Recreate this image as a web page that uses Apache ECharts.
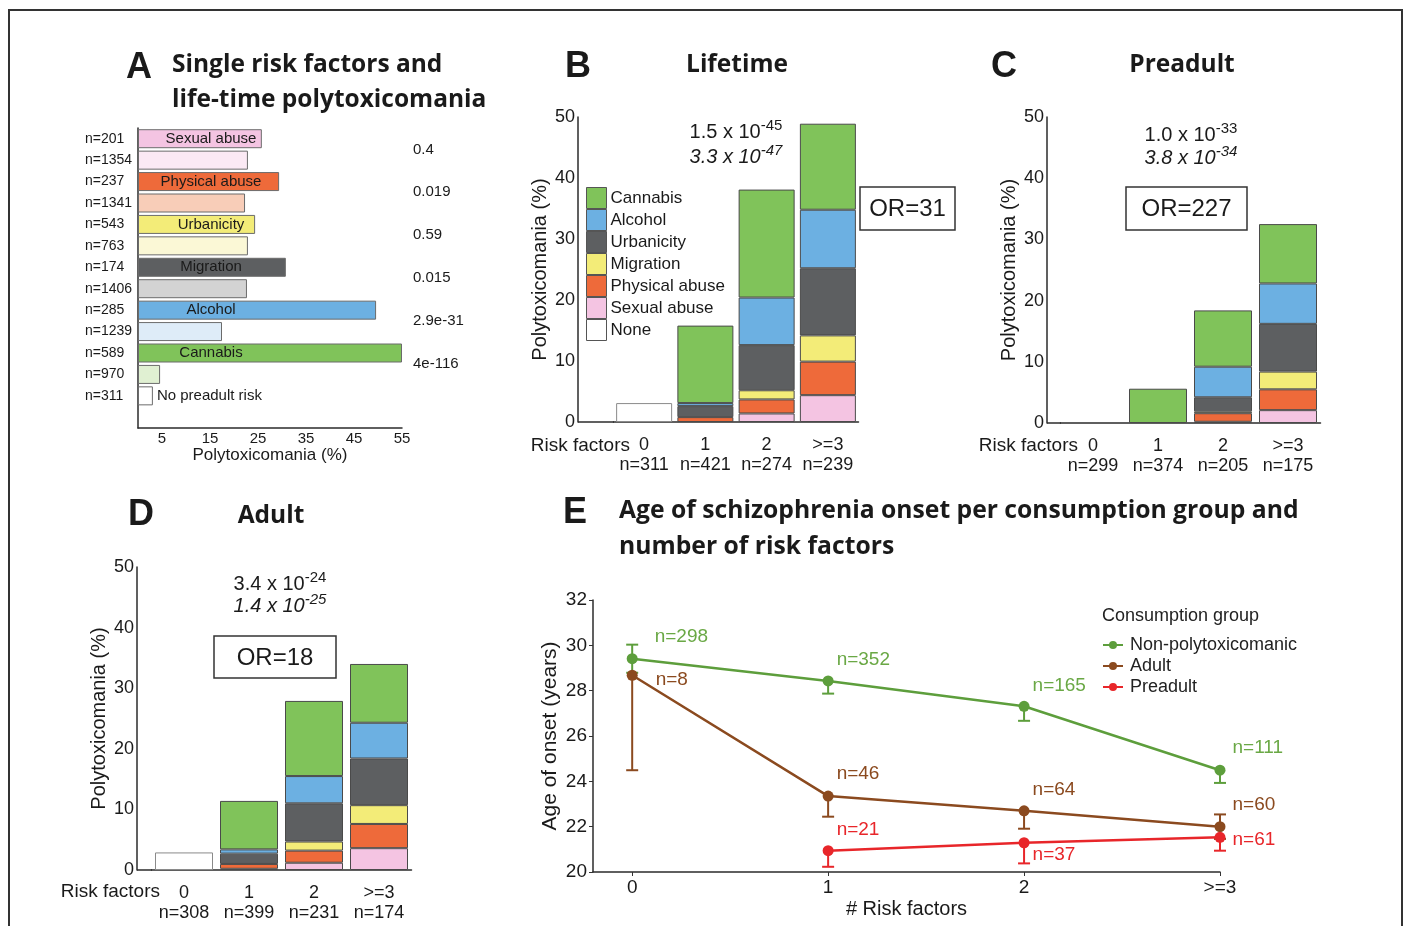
<!DOCTYPE html>
<html>
<head>
<meta charset="utf-8">
<title>Polytoxicomania and risk factors</title>
<script src="https://cdn.jsdelivr.net/npm/echarts@6.0.0/dist/echarts.min.js"></script>
<style>
  html, body { margin: 0; padding: 0; background: #fff; }
  #chart { width: 1406px; height: 926px; }
</style>
</head>
<body>
<div id="chart"></div>
<script>
// ---- panel A: single risk factors, rows top to bottom ----
const aCounts = ['n=201', 'n=1354', 'n=237', 'n=1341', 'n=543', 'n=763', 'n=174', 'n=1406', 'n=285', 'n=1239', 'n=589', 'n=970', 'n=311', ''];
const aNames = ['Sexual abuse', '', 'Physical abuse', '', 'Urbanicity', '', 'Migration', '', 'Alcohol', '', 'Cannabis', '', 'No preadult risk', ''];
const aValues = [25.8, 22.9, 29.4, 22.3, 24.4, 22.9, 30.8, 22.7, 49.6, 17.5, 55, 4.6, 3.1, null];
const aPvalues = ['0.4', '0.019', '0.59', '0.015', '2.9e-31', '4e-116', ''];
const aTicks = [5, 15, 25, 35, 45, 55];

// ---- panels B, C, D: stacked bars per number of risk factors ----
const riskCats = ['0', '1', '2', '>=3'];

const bCounts = ['n=311', 'n=421', 'n=274', 'n=239'];
const bNone = [3.1, null, null, null];
const bSexual = [null, null, 1.4, 4.4];
const bPhysical = [null, 0.8, 2.3, 5.5];
const bMigration = [null, null, 1.5, 4.3];
const bUrbanicity = [null, 1.8, 7.4, 11.0];
const bAlcohol = [null, 0.5, 7.8, 9.6];
const bCannabis = [null, 12.7, 17.7, 14.1];

const cCounts = ['n=299', 'n=374', 'n=205', 'n=175'];
const cNone = [null, null, null, null];
const cSexual = [null, null, 0.2, 2.1];
const cPhysical = [null, null, 1.4, 3.4];
const cMigration = [null, null, 0.3, 2.9];
const cUrbanicity = [null, null, 2.3, 7.8];
const cAlcohol = [null, null, 5.0, 6.6];
const cCannabis = [null, 5.6, 9.2, 9.7];

const dCounts = ['n=308', 'n=399', 'n=231', 'n=174'];
const dNone = [2.9, null, null, null];
const dSexual = [null, 0.2, 1.2, 3.6];
const dPhysical = [null, 0.8, 2.0, 4.0];
const dMigration = [null, null, 1.5, 3.1];
const dUrbanicity = [null, 1.7, 6.3, 7.7];
const dAlcohol = [null, 0.7, 4.5, 5.9];
const dCannabis = [null, 8.0, 12.4, 9.7];

// ---- panel E: age of onset (mean, error bar ends) ----
const eCats = ['0', '1', '2', '>=3'];
const greenMean = [29.41, 28.43, 27.31, 24.49];
const greenLow = [28.79, 27.87, 26.67, 23.93];
const greenHigh = [30.03, 28.43, 27.31, 24.49];
const greenN = ['n=298', 'n=352', 'n=165', 'n=111'];
const brownMean = [28.68, 23.35, 22.70, 22.00];
const brownLow = [24.49, 22.44, 21.91, 21.46];
const brownHigh = [28.68, 23.35, 22.70, 22.54];
const brownN = ['n=8', 'n=46', 'n=64', 'n=60'];
const redMean = [null, 20.94, 21.29, 21.53];
const redLow = [null, 20.23, 20.38, 20.94];
const redHigh = [null, 20.94, 21.29, 21.53];
const redN = ['', 'n=21', 'n=37', 'n=61'];

const font = '"Liberation Sans", Arial, sans-serif';
const headFont = '"Open Sans", sans-serif';
const ink = '#1a1a1a';
const axisColor = '#2b2b2b';
const axisLine = { show: true, onZero: false, lineStyle: { color: axisColor, width: 1.5 } };

const col = {
  cannabis: '#80c35a', alcohol: '#6cb0e2', urbanicity: '#5d5f61', migration: '#f3ec78',
  physical: '#ee6a3a', sexual: '#f4c4e2', none: '#ffffff'
};
// panel A uses its own colouring (urbanicity yellow, migration grey)
const aColors = ['#f4c4e2', '#fbe9f4', '#ee6a3a', '#f8cdb8', '#f3ec78', '#fbf8d6', '#5d5f61', '#d3d3d3',
  '#6cb0e2', '#deecf8', '#80c35a', '#e0f0d2', '#ffffff'];

const chart = echarts.init(document.getElementById('chart'));

function stackSeries(axis, width, layers) {
  return layers.map(function (l) {
    return {
      type: 'bar', name: l[0], xAxisIndex: axis, yAxisIndex: axis + 1, stack: 'panel' + axis,
      barWidth: width,
      itemStyle: { color: l[2], borderColor: l[0] === 'None' ? '#8a8a8a' : '#4a4a4a', borderWidth: 1 },
      data: l[1].map(function (v) { return v == null ? '-' : v; })
    };
  });
}

function riskXAxis(grid, counts) {
  return {
    type: 'category', gridIndex: grid, data: riskCats,
    splitLine: { show: false }, axisTick: { show: false }, axisLine: axisLine,
    axisLabel: {
      margin: 13, fontSize: 18, lineHeight: 20, color: ink, fontFamily: font, interval: 0,
      formatter: function (v, i) { return v + '\n' + counts[i]; }
    }
  };
}

// the y axis sits left of the first category band, so it is offset from the grid
function pctYAxis(grid, offset) {
  return {
    type: 'value', gridIndex: grid, min: 0, max: 50, interval: 10, offset: offset,
    name: 'Polytoxicomania (%)', nameLocation: 'middle', nameGap: 28,
    nameTextStyle: { fontSize: 20, color: ink, fontFamily: font },
    splitLine: { show: false }, axisTick: { show: false }, axisLine: axisLine,
    axisLabel: { fontSize: 18, margin: 3, color: ink, fontFamily: font }
  };
}

function errorSeries(color, mean, low, high) {
  const data = [];
  mean.forEach(function (m, i) { if (m != null) data.push([i, low[i], high[i], m]); });
  function cap(p) {
    return { type: 'line', shape: { x1: p[0] - 6, y1: p[1], x2: p[0] + 6, y2: p[1] }, style: { stroke: color, lineWidth: 2 } };
  }
  return {
    type: 'custom', xAxisIndex: 4, yAxisIndex: 5, z: 3,
    encode: { x: 0, y: [1, 2] },
    renderItem: function (params, api) {
      const x = api.value(0), lo = api.value(1), hi = api.value(2), m = api.value(3);
      const pLo = api.coord([x, lo]), pHi = api.coord([x, hi]);
      const kids = [{ type: 'line', shape: { x1: pLo[0], y1: pLo[1], x2: pHi[0], y2: pHi[1] }, style: { stroke: color, lineWidth: 2 } }];
      if (lo < m) kids.push(cap(pLo));
      if (hi > m) kids.push(cap(pHi));
      return { type: 'group', children: kids };
    },
    data: data
  };
}

function meanSeries(name, color, textColor, mean, labels, offsets) {
  const data = [];
  mean.forEach(function (m, i) {
    if (m == null) return;
    data.push({ value: [i, m], label: { formatter: labels[i], offset: offsets[i] } });
  });
  return {
    type: 'line', name: name, xAxisIndex: 4, yAxisIndex: 5, z: 4,
    symbol: 'circle', symbolSize: 11, color: color,
    lineStyle: { color: color, width: 2.5 },
    label: { show: true, position: 'right', distance: 0, fontSize: 19, color: textColor, fontFamily: font },
    data: data
  };
}

function txt(x, y, text, size, extra) {
  return {
    type: 'text', z: 50,
    style: Object.assign({ x: x, y: y, text: text, fontSize: size, fontFamily: font, fill: ink, align: 'center', verticalAlign: 'middle' }, extra || {})
  };
}

function pText(x, y, main, sup, italic) {
  const st = italic ? 'italic' : 'normal';
  return {
    type: 'text', z: 50,
    style: {
      x: x, y: y, text: '{a|' + main + '}{s|' + sup + '}', align: 'center', verticalAlign: 'middle',
      rich: {
        a: { fontSize: 20, fontFamily: font, fontStyle: st, fill: ink },
        s: { fontSize: 15, fontFamily: font, fontStyle: st, fill: ink, padding: [0, 0, 13, 0] }
      }
    }
  };
}

function orBox(x, y, w, h, text) {
  return [
    { type: 'rect', z: 49, shape: { x: x, y: y, width: w, height: h }, style: { fill: '#fff', stroke: '#333', lineWidth: 1.5 } },
    txt(x + w / 2, y + h / 2 + 1, text, 24)
  ];
}

function baseStub(x1, x2, y) {
  return { type: 'line', z: 40, shape: { x1: x1, y1: y, x2: x2, y2: y }, style: { stroke: axisColor, lineWidth: 1.5 } };
}

const big = { fontWeight: 'bold', fontSize: 36 };
const head = { fontWeight: 'bold', fontFamily: headFont };

const graphics = [
  { type: 'rect', z: 60, shape: { x: 9, y: 10, width: 1393, height: 940 }, style: { fill: 'none', stroke: '#333', lineWidth: 2 } },
  txt(139, 68, 'A', 36, big),
  txt(172, 65, 'Single risk factors and', 24.5, Object.assign({ align: 'left' }, head)),
  txt(172, 100, 'life-time polytoxicomania', 24.5, Object.assign({ align: 'left' }, head)),
  txt(578, 67, 'B', 36, big),
  txt(737, 65, 'Lifetime', 24.5, head),
  txt(1004, 67, 'C', 36, big),
  txt(1182, 65, 'Preadult', 24.5, head),
  txt(141, 515, 'D', 36, big),
  txt(271, 516, 'Adult', 24.5, head),
  txt(575, 513, 'E', 36, big),
  txt(619, 511, 'Age of schizophrenia onset per consumption group and', 24.7, Object.assign({ align: 'left' }, head)),
  txt(619, 547, 'number of risk factors', 24.7, Object.assign({ align: 'left' }, head)),
  pText(736, 132, '1.5 x 10', '-45', false),
  pText(736, 157, '3.3 x 10', '-47', true),
  pText(1191, 135, '1.0 x 10', '-33', false),
  pText(1191, 158, '3.8 x 10', '-34', true),
  pText(280, 584, '3.4 x 10', '-24', false),
  pText(280, 606, '1.4 x 10', '-25', true),
  txt(630, 446, 'Risk factors', 19, { align: 'right' }),
  txt(1078, 446, 'Risk factors', 19, { align: 'right' }),
  txt(160, 892, 'Risk factors', 19, { align: 'right' }),
  txt(1102, 616, 'Consumption group', 18, { align: 'left', fill: '#222' }),
  baseStub(578, 614, 422),
  baseStub(1047, 1061, 423),
  baseStub(137, 152, 870)
].concat(orBox(860, 187, 95, 43, 'OR=31'), orBox(1126, 187, 121, 43, 'OR=227'), orBox(214, 636, 122, 42, 'OR=18'));

const layersB = [['None', bNone, col.none], ['Sexual abuse', bSexual, col.sexual], ['Physical abuse', bPhysical, col.physical],
  ['Migration', bMigration, col.migration], ['Urbanicity', bUrbanicity, col.urbanicity], ['Alcohol', bAlcohol, col.alcohol], ['Cannabis', bCannabis, col.cannabis]];
const layersC = [['None', cNone, col.none], ['Sexual abuse', cSexual, col.sexual], ['Physical abuse', cPhysical, col.physical],
  ['Migration', cMigration, col.migration], ['Urbanicity', cUrbanicity, col.urbanicity], ['Alcohol', cAlcohol, col.alcohol], ['Cannabis', cCannabis, col.cannabis]];
const layersD = [['None', dNone, col.none], ['Sexual abuse', dSexual, col.sexual], ['Physical abuse', dPhysical, col.physical],
  ['Migration', dMigration, col.migration], ['Urbanicity', dUrbanicity, col.urbanicity], ['Alcohol', dAlcohol, col.alcohol], ['Cannabis', dCannabis, col.cannabis]];

const option = {
  backgroundColor: '#fff',
  animation: false,
  textStyle: { fontFamily: font },
  grid: [
    { left: 138, top: 128, width: 264, height: 300 },
    { left: 613.5, top: 117, width: 245, height: 305 },
    { left: 1060.5, top: 117, width: 260, height: 306 },
    { left: 151.5, top: 567, width: 260, height: 303 },
    { left: 593, top: 600, width: 627, height: 272 }
  ],
  xAxis: [
    {
      type: 'value', gridIndex: 0, min: 0, max: 55,
      name: 'Polytoxicomania (%)', nameLocation: 'middle', nameGap: 18,
      nameTextStyle: { fontSize: 17, color: ink, fontFamily: font },
      splitLine: { show: false }, axisTick: { show: false }, axisLine: axisLine,
      axisLabel: { customValues: aTicks, fontSize: 15, margin: 3, color: ink, fontFamily: font }
    },
    riskXAxis(1, bCounts),
    riskXAxis(2, cCounts),
    riskXAxis(3, dCounts),
    {
      type: 'value', gridIndex: 4, min: -0.2, max: 3,
      name: '# Risk factors', nameLocation: 'middle', nameGap: 27,
      nameTextStyle: { fontSize: 20, color: ink, fontFamily: font },
      splitLine: { show: false }, axisLine: axisLine,
      axisTick: { show: true, customValues: [0, 1, 2, 3], length: 4, lineStyle: { color: '#333' } },
      axisLabel: {
        customValues: [0, 1, 2, 3], fontSize: 19, margin: 6, color: ink, fontFamily: font,
        formatter: function (v) { return eCats[v]; }
      }
    }
  ],
  yAxis: [
    {
      type: 'category', gridIndex: 0, inverse: true, data: aCounts,
      splitLine: { show: false }, axisTick: { show: false }, axisLine: axisLine,
      axisLabel: { align: 'left', margin: 53, fontSize: 14, color: ink, fontFamily: font }
    },
    {
      type: 'category', gridIndex: 0, inverse: true, position: 'right', data: aPvalues,
      axisLine: { show: false }, axisTick: { show: false }, splitLine: { show: false },
      axisLabel: { margin: 11, fontSize: 15, color: ink, fontFamily: font }
    },
    pctYAxis(1, 35.5),
    pctYAxis(2, 13.5),
    pctYAxis(3, 14.5),
    {
      type: 'value', gridIndex: 4, min: 20, max: 32, interval: 2,
      name: 'Age of onset (years)', nameLocation: 'middle', nameGap: 32,
      nameTextStyle: { fontSize: 21, color: ink, fontFamily: font },
      splitLine: { show: false }, axisLine: axisLine,
      axisTick: { show: true, length: 4, lineStyle: { color: '#333' } },
      axisLabel: { fontSize: 19, margin: 6, color: ink, fontFamily: font }
    }
  ],
  legend: [
    {
      data: ['Cannabis', 'Alcohol', 'Urbanicity', 'Migration', 'Physical abuse', 'Sexual abuse', 'None'],
      orient: 'vertical', left: 586, top: 187, padding: 0, itemWidth: 20, itemHeight: 21, itemGap: 0,
      icon: 'rect', selectedMode: false,
      itemStyle: { borderColor: '#555', borderWidth: 1 },
      textStyle: { fontSize: 17, color: ink, fontFamily: font, padding: [0, 0, 0, -1] }
    },
    {
      data: ['Non-polytoxicomanic', 'Adult', 'Preadult'],
      orient: 'vertical', left: 1102, top: 636, padding: 0, itemWidth: 20, itemHeight: 10, itemGap: 3,
      selectedMode: false,
      textStyle: { fontSize: 18, lineHeight: 18, color: '#222', fontFamily: font, padding: [0, 0, 0, 2] }
    }
  ],
  series: [
    {
      type: 'bar', xAxisIndex: 0, yAxisIndex: 0, barWidth: 19,
      data: aValues.map(function (v, i) {
        const last = aNames[i] === 'No preadult risk';
        return {
          value: v == null ? '-' : v,
          itemStyle: { color: aColors[i] || '#fff', borderColor: '#6b6b6b', borderWidth: 1 },
          label: last
            ? { show: true, position: 'right', distance: 4, formatter: aNames[i], fontSize: 15, color: ink }
            : { show: aNames[i] !== '', position: [73, '50%'], align: 'center', verticalAlign: 'middle', formatter: aNames[i], fontSize: 15, color: ink }
        };
      })
    }
  ].concat(
    stackSeries(1, 56, layersB),
    stackSeries(2, 58, layersC),
    stackSeries(3, 58, layersD),
    [
      errorSeries('#5d9e3c', greenMean, greenLow, greenHigh),
      errorSeries('#8b4a1f', brownMean, brownLow, brownHigh),
      errorSeries('#e8262a', redMean, redLow, redHigh),
      meanSeries('Non-polytoxicomanic', '#5d9e3c', '#6aa845', greenMean, greenN, [[17, -22], [3, -21], [3, -21], [7, -22]]),
      meanSeries('Adult', '#8b4a1f', '#8b4a1f', brownMean, brownN, [[18, 5], [3, -22], [3, -21], [7, -22]]),
      meanSeries('Preadult', '#e8262a', '#e8262a', redMean, redN, [null, [3, -21], [3, 12], [7, 2]])
    ]
  ),
  graphic: graphics
};

chart.setOption(option);
</script>
</body>
</html>
